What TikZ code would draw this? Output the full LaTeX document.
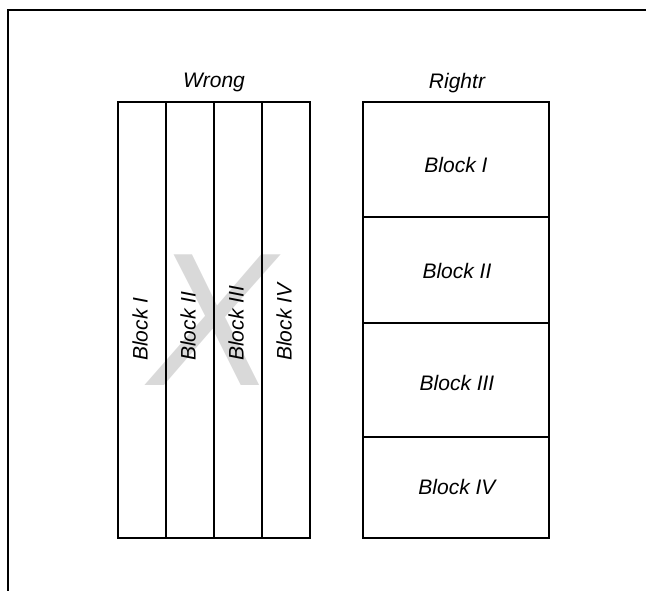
\documentclass[tikz,border=0pt]{standalone}
\usepackage{fontspec}
\setmainfont{Liberation Sans}
\begin{document}
\begin{tikzpicture}[x=1pt,y=-1pt,
  frame/.style={line width=2pt, line cap=rect},
  cell/.style={draw, line width=2.8pt, inner sep=0pt, outer sep=0pt},
  tall/.style={cell, minimum width=48pt, minimum height=436pt},
  lbl/.style={font=\fontsize{21}{25}\selectfont\itshape, inner sep=0pt},
  cross/.style={font=\fontsize{190}{190}\selectfont\itshape, text=black!15, inner sep=0pt}
]
\useasboundingbox (0,0) rectangle (646,590);

% outer frame (only its top and left sides fall on the page)
\coordinate (fa) at (8,590);
\coordinate (fb) at (8,10);
\coordinate (fc) at (646,10);
\draw[frame] (fa) -- (fb) -- (fc);

% faint cross behind the wrong layout
\node[cross] (x) at (212,320) {X};

% wrong layout: four vertical strips
\node[tall] (w1) at (142,320) {};
\node[tall] (w2) at (190,320) {};
\node[tall] (w3) at (238,320) {};
\node[tall] (w4) at (286,320) {};
\node[lbl] (wt) at (214,82) {Wrong};
\node[lbl, rotate=90, anchor=west] (l1) at (140,361) {Block I};
\node[lbl, rotate=90, anchor=west] (l2) at (188,361) {Block II};
\node[lbl, rotate=90, anchor=west] (l3) at (236,361) {Block III};
\node[lbl, rotate=90, anchor=west] (l4) at (284,361) {Block IV};

% right layout: four stacked blocks
\node[cell, minimum width=186pt, minimum height=115pt] (r1) at (456,159.5) {};
\node[cell, minimum width=186pt, minimum height=106pt] (r2) at (456,270) {};
\node[cell, minimum width=186pt, minimum height=114pt] (r3) at (456,380) {};
\node[cell, minimum width=186pt, minimum height=101pt] (r4) at (456,487.5) {};
\node[lbl] (rt) at (457,83) {Rightr};
\node[lbl] (b1) at (456,165) {Block I};
\node[lbl] (b2) at (457,271) {Block II};
\node[lbl] (b3) at (457,383) {Block III};
\node[lbl] (b4) at (457,487) {Block IV};
\end{tikzpicture}
\end{document}
